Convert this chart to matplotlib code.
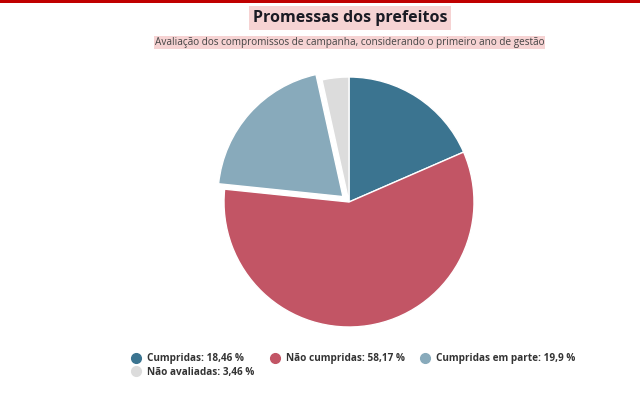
import matplotlib
matplotlib.use("Agg")
import matplotlib.pyplot as plt
from matplotlib.lines import Line2D

plt.rcParams["font.family"] = ["Open Sans", "DejaVu Sans"]

labels = ["Cumpridas", "Não cumpridas", "Cumpridas em parte", "Não avaliadas"]
values = [18.46, 58.17, 19.9, 3.46]
value_text = ["18,46", "58,17", "19,9", "3,46"]
colors = ["#3b7490", "#c25565", "#88aabb", "#dcdcdc"]
explode = [0, 0, 0.065, 0]

W, H = 640, 393
fig = plt.figure(figsize=(W / 100, H / 100), dpi=100)

# red bar on top
fig.add_artist(plt.Rectangle((0, 1 - 3 / H), 1, 3 / H, transform=fig.transFigure,
                             color="#c00000", lw=0))

fig.text(0.547, 1 - 18 / H, "Promessas dos prefeitos", ha="center", va="center",
         fontsize=11.5, fontweight="bold", color="#1b1b24",
         bbox=dict(boxstyle="square,pad=0.25", fc="#f6d3d3", ec="none"))
fig.text(0.546, 1 - 42 / H, "Avaliação dos compromissos de campanha, considerando o primeiro ano de gestão",
         ha="center", va="center", fontsize=7.2, color="#444444",
         bbox=dict(boxstyle="square,pad=0.1", fc="#f6d3d3", ec="none"))

# pie: centre (349, 202) px, radius 125 px
r, pad = 125, 1.1
side = 2 * r * pad
ax = fig.add_axes([(349 - side / 2) / W, (H - 202 - side / 2) / H, side / W, side / H])
ax.pie(values, colors=colors, explode=explode, startangle=90, counterclock=False,
       radius=1, wedgeprops=dict(edgecolor="white", linewidth=1))
ax.set_xlim(-pad, pad)
ax.set_ylim(-pad, pad)
ax.set_aspect("equal")
ax.axis("off")

handles = [Line2D([], [], marker="o", ls="", markersize=7, markerfacecolor=c,
                  markeredgecolor=c) for c in colors]
leg_labels = [f"{l}: {v} %" for l, v in zip(labels, value_text)]
# legend fills column by column: put "Não avaliadas" under "Cumpridas"
order = [0, 3, 1, 2]
leg = fig.legend([handles[i] for i in order], [leg_labels[i] for i in order],
                 ncol=3, loc="upper left",
                 bbox_to_anchor=(121 / W, 1 - 344 / H), frameon=False,
                 handletextpad=0.5, columnspacing=1.45, labelspacing=0.25,
                 handlelength=1.2, prop=dict(size=7.2, weight="bold"))
for t in leg.get_texts():
    t.set_color("#333333")

fig.savefig("out.png", dpi=100)
